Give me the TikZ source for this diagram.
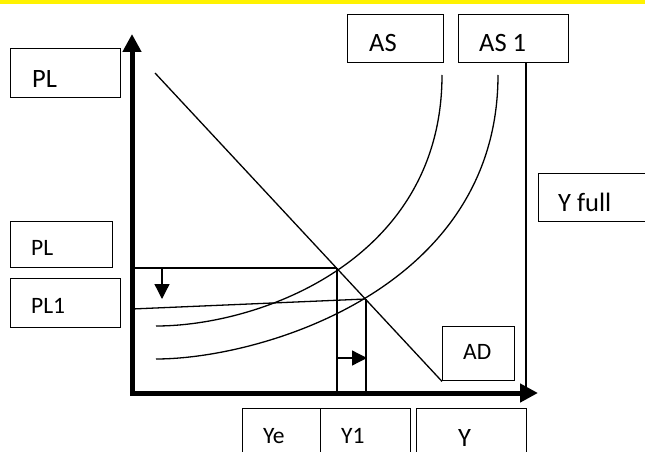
\documentclass[tikz,border=0pt]{standalone}
\usepackage{fontspec}
\setmainfont{Carlito}
\usetikzlibrary{arrows.meta}
\tikzset{
  box/.style={draw, line width=1.4pt, rectangle, inner sep=0pt, anchor=north west},
  big/.style={inner sep=0pt, anchor=base west, font=\fontsize{26.5}{30}\selectfont},
  small/.style={inner sep=0pt, anchor=base west, font=\fontsize{23.5}{28}\selectfont},
  thin/.style={line width=1.3pt},
  axis/.style={line width=5pt, line join=miter},
  bighead/.tip={Triangle[length=18pt,width=18pt]},
  smallhead/.tip={Triangle[length=15pt,width=15pt]}
}
\begin{document}
\begin{tikzpicture}[x=1pt,y=-1pt]
\useasboundingbox (0,0) rectangle (645,452);
\clip (0,0) rectangle (645,452);
\fill[yellow] (0,0) rectangle (645,4.5);

% key points
\coordinate (ytip) at (132,34);
\coordinate (orig) at (132,393);
\coordinate (xtip) at (538,393);
\coordinate (E1) at (337,268);
\coordinate (E2) at (366,299);
\coordinate (plstart) at (132,268);
\coordinate (plonestart) at (132,309);
\coordinate (adtop) at (155,73);
\coordinate (yfb) at (526,391);
\coordinate (yeb) at (337,391);
\coordinate (yoneb) at (366,391);
\coordinate (dtop) at (162,269);
\coordinate (dbot) at (162,299);
\coordinate (ra) at (337,358);
\coordinate (rb) at (367,358);
\coordinate (asA) at (156,326);
\coordinate (asB) at (442,75);
\coordinate (asoneA) at (156,359);
\coordinate (asoneB) at (498,75);

% boxes
\node[box, minimum width=110pt, minimum height=49pt] (plbox) at (10,48) {};
\node[box, minimum width=96pt, minimum height=48pt] (asbox) at (347,14) {};
\node[box, minimum width=110pt, minimum height=48pt] (asonebox) at (458,14) {};
\node[box, minimum width=122pt, minimum height=48pt] (yfullbox) at (538,173) {};
\node[box, minimum width=102pt, minimum height=46pt] (plmidbox) at (10,221) {};
\node[box, minimum width=110pt, minimum height=49pt] (ploneb) at (10,278) {};
\node[box, minimum width=72pt, minimum height=54pt] (adbox) at (442,326) {};
\node[box, minimum width=78pt, minimum height=60pt] (yebox) at (242,408) {};
\node[box, minimum width=90pt, minimum height=60pt] (yonebox) at (320,408) {};
\node[box, minimum width=110pt, minimum height=60pt] (ybox) at (416,408) {};

% texts
\node[big] (tpl) at (32,87) {PL};
\node[big] (tas) at (369,52) {AS};
\node[big] (tasone) at (479,52) {AS 1};
\node[big] (tyfull) at (558,211) {Y full};
\node[small] (tplmid) at (31,255) {PL};
\node[small] (tplone) at (31,313) {PL1};
\node[small] (tad) at (463,359) {AD};
\node[small] (tye) at (263,443) {Ye};
\node[small] (tyone) at (341,443) {Y1};
\node[big] (ty) at (458,446) {Y};

% curves
\draw[thin] (asA) .. controls (260,326) and (442,260) .. (asB);
\draw[thin] (asoneA) .. controls (260,359) and (498,290) .. (asoneB);

% AD line
\draw[thin] (adtop) -- (adbox.south west);

% price lines
\draw[thin] (plstart) -- (E1);
\draw[thin] (plonestart) -- (E2);

% output lines
\draw[thin] (E1) -- (yeb);
\draw[thin] (E2) -- (yoneb);
\draw[thin] (asonebox.south -| yfb) -- (yfb);

% shift arrows
\draw[thin, -smallhead] (dtop) -- (dbot);
\draw[thin, -smallhead] (ra) -- (rb);

% axes
\draw[axis, bighead-bighead] (ytip) |- (xtip);
\end{tikzpicture}
\end{document}
